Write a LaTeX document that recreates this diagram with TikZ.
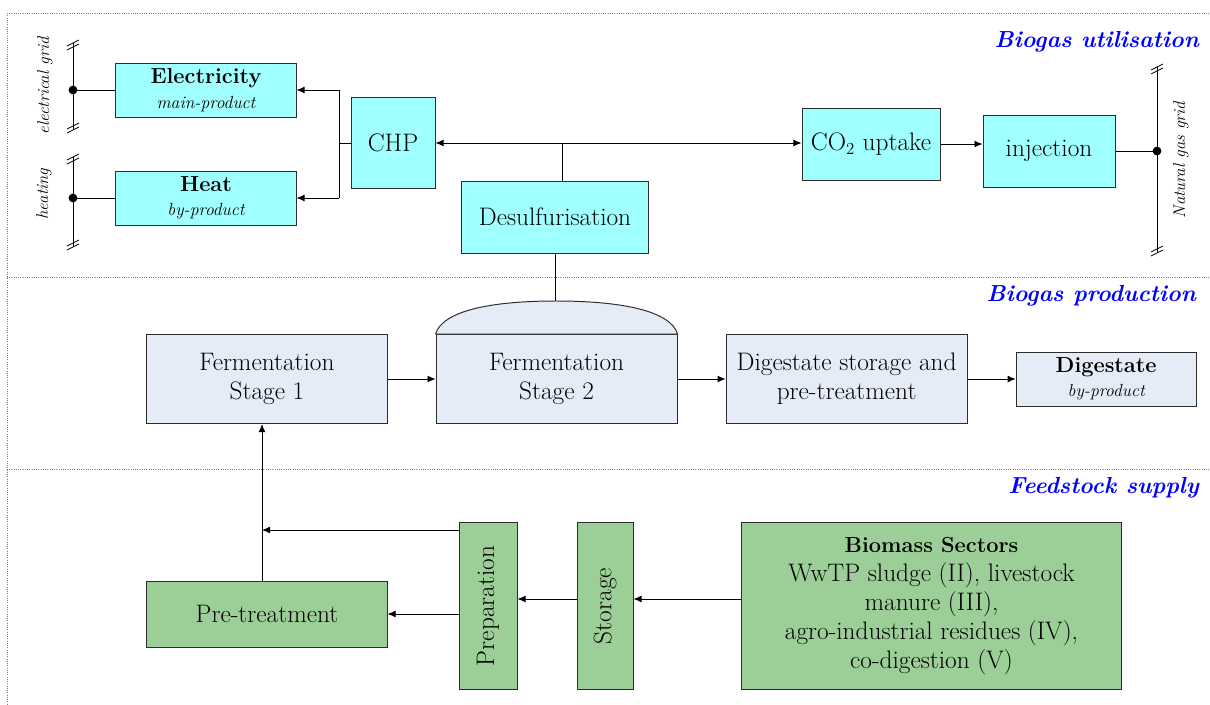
\documentclass[tikz,border=0pt]{standalone}
\usepackage{amsmath}
\usepackage{tikz}
\usetikzlibrary{arrows.meta}
\usetikzlibrary{calc}
\usetikzlibrary{positioning}

\definecolor{utilcyan}{RGB}{160,255,255}
\definecolor{prodblue}{RGB}{230,236,247}
\definecolor{feedgreen}{RGB}{156,207,152}
\definecolor{boxline}{RGB}{45,45,45}

\newcommand{\diagfont}{\fontsize{18}{20.5}\selectfont}
\newcommand{\titlefont}{\fontsize{15.5}{18}\selectfont\bfseries}
\newcommand{\tagfont}{\fontsize{12.5}{14}\selectfont\itshape}

\tikzset{
  unitbox/.style={draw=boxline, line width=0.7pt, inner sep=0pt, align=center, font=\diagfont},
  utilbox/.style={unitbox, fill=utilcyan},
  prodbox/.style={unitbox, fill=prodblue},
  feedbox/.style={unitbox, fill=feedgreen},
  arr/.style={-{Latex[length=2mm,width=1.7mm]}},
  sep/.style={densely dotted, gray, line width=0.6pt},
  section/.style={anchor=east, text=blue, font=\fontsize{16.5}{19}\selectfont\bfseries\itshape},
  gridlabel/.style={rotate=90, font=\fontsize{12}{14}\selectfont\itshape},
  dot/.style={circle, fill=black, inner sep=0pt, minimum size=2.2mm},
  gridcut/.pic={
    \draw (-6,1) -- (6,-5);
    \draw (-6,5) -- (6,-1);
  }
}

\begin{document}
\begin{tikzpicture}[x=0.025cm, y=-0.025cm, line width=0.6pt]
  \useasboundingbox (0,0) rectangle (1210,704);

  % section frame
  \draw[sep] (7,13) -- (1210,13);
  \draw[sep] (7,277) -- (1210,277);
  \draw[sep] (7,469) -- (1210,469);
  \draw[sep] (7,13) -- (7,704);
  \node[section] (sutil) at (1204,42) {Biogas utilisation};
  \node[section] (sprod) at (1201,296) {Biogas production};
  \node[section] (sfeed) at (1204,488) {Feedstock supply};

  % biogas utilisation
  \node[utilbox, minimum width=4.5cm, minimum height=1.35cm] (elec) at (206,90)
    {{\titlefont Electricity}\\[-3pt]{\tagfont main-product}};
  \node[utilbox, minimum width=4.5cm, minimum height=1.35cm] (heat) at (206,198)
    {{\titlefont Heat}\\[-3pt]{\tagfont by-product}};
  \node[utilbox, minimum width=2.1cm, minimum height=2.25cm] (chp) at (393,143) {CHP};
  \node[utilbox, minimum width=4.65cm, minimum height=1.8cm] (desulf) at (555,217) {Desulfurisation};
  \node[utilbox, minimum width=3.45cm, minimum height=1.8cm] (co2) at (871,144) {CO$_2$ uptake};
  \node[utilbox, minimum width=3.3cm, minimum height=1.8cm] (inj) at (1049,151) {injection};

  \coordinate (chpbus) at (339,143);
  \coordinate (gasbus) at (562,143);
  \coordinate (egrid) at (73,87);
  \coordinate (ngrid) at (1157,151);

  \draw (chp.west) -- (chp.west -| chpbus);
  \draw (chpbus |- elec.east) -- (chpbus |- heat.east);
  \draw[arr] (chpbus |- elec.east) -- (elec.east);
  \draw[arr] (chpbus |- heat.east) -- (heat.east);
  \draw[{Latex[length=2mm,width=1.7mm]}-{Latex[length=2mm,width=1.7mm]}] (chp.east) -- (chp.east -| co2.west);
  \draw (desulf.north -| gasbus) -- (gasbus);
  \draw[arr] (co2.east) -- (co2.east -| inj.west);

  % grids
  \draw (73,43) -- (73,130);
  \draw (73,157) -- (73,247);
  \draw (1157,67) -- (1157,253);
  \pic at (73,45) {gridcut};
  \pic at (73,128) {gridcut};
  \pic at (73,159) {gridcut};
  \pic at (73,245) {gridcut};
  \pic at (1157,69) {gridcut};
  \pic at (1157,251) {gridcut};
  \draw (elec.west) -- (elec.west -| egrid) node[dot] (edot) {};
  \draw (heat.west) -- (heat.west -| egrid) node[dot] (hdot) {};
  \draw (inj.east) -- (inj.east -| ngrid) node[dot] (ndot) {};
  \node[gridlabel] (elab) at (45,86) {electrical grid};
  \node[gridlabel] (hlab) at (44,194) {heating};
  \node[gridlabel] (nlab) at (1181,160) {Natural gas grid};

  % biogas production
  \node[prodbox, minimum width=6cm, minimum height=2.225cm] (ferm1) at (267,379) {Fermentation\\Stage 1};
  \node[prodbox, minimum width=6.025cm, minimum height=2.225cm, right=1.2cm of ferm1] (ferm2) {Fermentation\\Stage 2};
  \node[prodbox, minimum width=6.025cm, minimum height=2.225cm, right=1.2cm of ferm2] (dstore) {Digestate storage and\\pre-treatment};
  \node[prodbox, minimum width=4.5cm, minimum height=1.35cm, right=1.2cm of dstore] (digest)
    {{\titlefont Digestate}\\[-3pt]{\tagfont by-product}};
  \coordinate (dometop) at (556,301);
  \draw[fill=prodblue, line width=0.7pt, draw=boxline] (ferm2.north west) .. controls +(7,-23) and +(-66,0) .. (dometop)
    .. controls +(66,0) and +(-7,-23) .. (ferm2.north east) -- cycle;
  \draw (desulf.south) -- (desulf.south |- dometop);

  \draw[arr] (ferm1) -- (ferm2);
  \draw[arr] (ferm2) -- (dstore);
  \draw[arr] (dstore) -- (digest);

  % feedstock supply
  \node[feedbox, minimum width=6cm, minimum height=1.65cm] (pretreat) at (267,614) {Pre-treatment};
  \node[feedbox, minimum width=1.45cm, minimum height=4.15cm] (prep) at (488,606) {};
  \node[rotate=90, font=\diagfont] (preptxt) at (prep) {Preparation};
  \node[feedbox, minimum width=1.4cm, minimum height=4.15cm] (store) at (605,606) {};
  \node[rotate=90, font=\diagfont] (storetxt) at (store) {Storage};
  \node[feedbox, minimum width=9.475cm, minimum height=4.15cm] (biomass) at (931.5,606)
    {{\fontsize{15.5}{20.5}\selectfont\bfseries Biomass Sectors}\\WwTP sludge (II), livestock\\manure (III),\\agro-industrial residues (IV),\\co-digestion (V)};

  \coordinate (feedrow) at (0,599);
  \coordinate (riser) at (262,530);
  \draw[arr] (biomass.west |- feedrow) -- (store.east |- feedrow);
  \draw[arr] (store.west |- feedrow) -- (prep.east |- feedrow);
  \draw[arr] (prep.west |- pretreat.east) -- (pretreat.east);
  \draw[arr] (prep.west |- riser) -- (riser);
  \draw[arr] (pretreat.north -| riser) -- (ferm1.south -| riser);
\end{tikzpicture}
\end{document}
